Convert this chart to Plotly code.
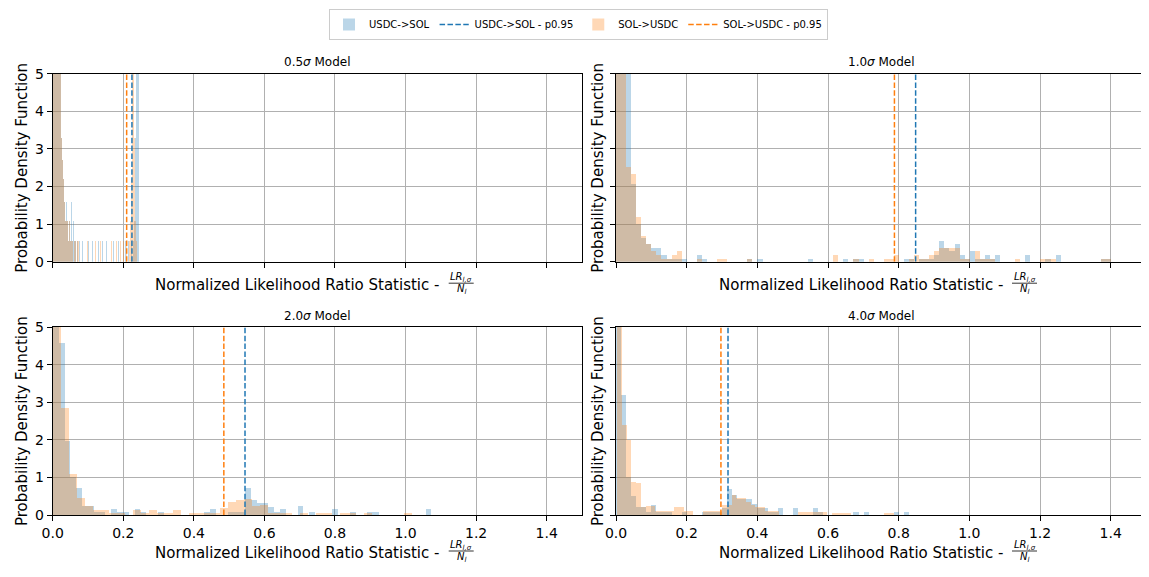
import plotly.graph_objects as go

# ---------------- data ----------------
model_labels = ["0.5", "1.0", "2.0", "4.0"]
series_names = ["USDC->SOL", "SOL->USDC"]

# 95th percentile thresholds
p95_usdc_sol = [0.2246, 0.848, 0.545, 0.317]
p95_sol_usdc = [0.2096, 0.788, 0.485, 0.297]

# histogram bin edges (first edge, bin width) per model
bin_start_usdc_sol = [0.0, 0.0, 0.0, 0.0]
bin_width_usdc_sol = [0.0024, 0.0143, 0.0165, 0.0143]
bin_start_sol_usdc = [0.0, 0.0, 0.0, 0.003]
bin_width_sol_usdc = [0.0024, 0.0143, 0.0226, 0.0135]

# probability density per bin (values above 5 are clipped by the axis)
dens_usdc_sol_05 = [
    28, 24, 20, 16, 12, 9, 7, 6, 5.5, 3.8,
    3.3, 2.7, 2.2, 1.6, 1.1, 1.6, 2.2, 1.1, 0.55, 1.1,
    0.55, 1.6, 1.1, 0.55, 1.1, 0.55, 0.55, 0, 0.55, 0.55,
    0, 0.55, 0, 0, 0.55, 0, 0, 0, 0, 0,
    0, 0.55, 0, 0, 0, 0, 0.55, 0, 0, 0,
    0, 0, 0, 0.55, 0, 0, 0, 0, 0.55, 0,
    0, 0, 0, 0.55, 0, 0, 0, 0, 0, 0,
    0, 0.55, 0, 0, 0, 0, 0, 0.55, 0, 0,
    0, 0, 0, 0, 0, 0.55, 0, 0, 0, 0.55,
    0, 0, 0.55, 0, 0, 0.55, 1.1, 3.3, 6.6, 7.7,
    6.1, 1.1,
]
dens_sol_usdc_05 = [
    30, 26, 22, 17, 13, 10, 8, 6.5, 5.5, 5.2,
    3.3, 2.7, 2.2, 1.6, 1.1, 1.1, 0.55, 1.1, 0.55, 1.1,
    0.55, 0.55, 1.1, 0.55, 0, 0.55, 0.55, 0, 0.55, 0,
    0.55, 0, 0, 0, 0, 0.55, 0, 0, 0, 0,
    0.55, 0, 0, 0, 0, 0, 0, 0, 0, 0,
    0.55, 0, 0, 0, 0, 0, 0.55, 0, 0, 0,
    0, 0, 0.55, 0, 0, 0, 0, 0, 0, 0.55,
    0, 0, 0, 0, 0.55, 0, 0, 0, 0, 0.55,
    0, 0, 0, 0.55, 0, 0, 0.55, 0, 0, 0,
    0.55, 1.1, 2.2, 5.5, 6.6, 6.1, 3.3, 1.1, 0.55, 0,
]
dens_usdc_sol_10 = [
    25, 19, 5.6, 2.07, 1.0, 0.65, 0.47, 0.37, 0.37, 0.19,
    0.09, 0.09, 0.09, 0.09, 0, 0, 0.19, 0.09, 0, 0,
    0, 0, 0, 0, 0, 0, 0.09, 0, 0.09, 0,
    0, 0, 0, 0, 0, 0, 0, 0, 0.09, 0,
    0, 0, 0, 0, 0, 0.09, 0, 0.09, 0.09, 0,
    0, 0, 0, 0, 0, 0, 0, 0.09, 0.09, 0,
    0.09, 0.09, 0.09, 0.19, 0.56, 0.37, 0.28, 0.47, 0.19, 0.09,
    0.28, 0.09, 0.09, 0.19, 0.09, 0.19, 0, 0, 0, 0,
    0, 0.19, 0, 0, 0, 0.09, 0, 0.19, 0, 0,
    0, 0, 0, 0, 0, 0, 0.09, 0.09, 0, 0,
]
dens_sol_usdc_10 = [
    22, 14, 2.53, 2.35, 1.2, 0.7, 0.47, 0.28, 0.19, 0.09,
    0.09, 0.19, 0.28, 0, 0, 0, 0.09, 0, 0, 0,
    0.09, 0.09, 0, 0, 0, 0, 0.09, 0, 0, 0,
    0, 0, 0, 0, 0, 0, 0, 0, 0, 0,
    0, 0, 0, 0.19, 0, 0, 0, 0.09, 0, 0,
    0.09, 0, 0, 0.09, 0.09, 0.19, 0, 0, 0.09, 0.19,
    0.09, 0.09, 0.19, 0.28, 0.37, 0.37, 0.37, 0.37, 0.09, 0.09,
    0, 0.28, 0.09, 0.09, 0.09, 0, 0, 0, 0, 0.09,
    0, 0, 0, 0, 0.09, 0.09, 0.09, 0, 0, 0,
    0, 0, 0, 0, 0, 0, 0.09, 0.09,
]
dens_usdc_sol_20 = [
    45, 4.57, 1.97, 1.0, 0.72, 0.24, 0.24, 0.08, 0.08, 0,
    0.16, 0.08, 0.08, 0, 0.16, 0.08, 0, 0, 0.08, 0,
    0, 0, 0, 0, 0, 0, 0.08, 0.16, 0, 0,
    0.08, 0.08, 0.08, 0.71, 0.4, 0.31, 0.31, 0.22, 0.08, 0.16,
    0, 0, 0.24, 0, 0.08, 0, 0, 0, 0.16, 0,
    0, 0.08, 0, 0, 0.08, 0.08, 0, 0, 0, 0,
    0, 0, 0, 0, 0.16,
]
dens_sol_usdc_20 = [
    38, 2.85, 1.1, 0.44, 0.24, 0.12, 0.12, 0.06, 0.06, 0,
    0.12, 0.06, 0.12, 0.06, 0.06, 0.12, 0, 0.06, 0.06, 0.06,
    0.06, 0.18, 0.35, 0.4, 0.43, 0.24, 0.26, 0.06, 0.06, 0.06,
    0, 0.06, 0, 0.06, 0.06, 0, 0.06, 0.06, 0, 0.06,
    0, 0, 0, 0, 0.06,
]
dens_usdc_sol_40 = [
    50, 3.2, 1.02, 0.5, 0.2, 0.2, 0.09, 0.27, 0.09, 0.09,
    0.09, 0, 0, 0.09, 0, 0, 0, 0.09, 0.09, 0.09,
    0.09, 0.19, 0.68, 0.53, 0.43, 0.43, 0.43, 0.28, 0.19, 0.19,
    0.09, 0.09, 0.19, 0, 0, 0.19, 0, 0, 0, 0.19,
    0.09, 0, 0, 0, 0, 0, 0, 0.09, 0, 0.09,
    0, 0, 0, 0, 0, 0.09, 0, 0.09,
]
dens_sol_usdc_40 = [
    45, 2.4, 2.0, 0.87, 0.84, 0.2, 0.25, 0.25, 0.1, 0.1,
    0.1, 0.1, 0.2, 0.2, 0.1, 0.1, 0, 0, 0.1, 0.1,
    0.1, 0.1, 0.27, 0.27, 0.53, 0.45, 0.45, 0.35, 0.27, 0.2,
    0.2, 0.1, 0.1, 0.1, 0, 0, 0, 0, 0.07, 0.07,
    0.07, 0.07, 0.07, 0.07, 0, 0.05, 0.05, 0.05, 0.05, 0,
    0, 0, 0, 0, 0, 0, 0.05, 0.05, 0,
]

dens_usdc_sol = [dens_usdc_sol_05, dens_usdc_sol_10, dens_usdc_sol_20, dens_usdc_sol_40]
dens_sol_usdc = [dens_sol_usdc_05, dens_sol_usdc_10, dens_sol_usdc_20, dens_sol_usdc_40]

x_ticks = [0.0, 0.2, 0.4, 0.6, 0.8, 1.0, 1.2, 1.4]
y_ticks = [0, 1, 2, 3, 4, 5]

# ---------------- layout geometry (screen pixels of the reference) ----------------
OX, OY = 8, 8            # page offset of the figure inside the window
W, H = 1141, 577         # figure size
col_x = [(52.7, 582.0), (616.0, 1146.0)]
row_y = [(73.7, 261.7), (327.0, 515.0)]
FONT = "DejaVu Sans"
BLUE = "#1f77b4"
ORANGE = "#ff7f0e"
BLUE_FILL = "rgba(31,119,180,0.3)"
ORANGE_FILL = "rgba(255,127,14,0.3)"


def px(x):
    return (x - OX) / W


def py(y):
    return 1 - (y - OY) / H


fig = go.Figure()
layout_axes = {}
annotations = []
shapes = []

for k in range(4):
    r, c = divmod(k, 2)
    sfx = "" if k == 0 else str(k + 1)
    xa, ya = "x" + sfx, "y" + sfx
    for dens, start, w, name, fill, rank in [
        (dens_usdc_sol[k], bin_start_usdc_sol[k], bin_width_usdc_sol[k], series_names[0], BLUE_FILL, 1),
        (dens_sol_usdc[k], bin_start_sol_usdc[k], bin_width_sol_usdc[k], series_names[1], ORANGE_FILL, 3),
    ]:
        centers = [start + (i + 0.5) * w for i in range(len(dens))]
        fig.add_trace(go.Bar(
            x=centers, y=dens, width=w, name=name, legendgroup=name, legendrank=rank,
            showlegend=(k == 0), marker=dict(color=fill, line=dict(width=0)),
            xaxis=xa, yaxis=ya, hoverinfo="skip",
        ))
    for v, name, col, rank in [
        (p95_usdc_sol[k], series_names[0] + " - p0.95", BLUE, 2),
        (p95_sol_usdc[k], series_names[1] + " - p0.95", ORANGE, 4),
    ]:
        fig.add_trace(go.Scatter(
            x=[v, v], y=[0, 5], mode="lines", name=name, legendgroup=name, legendrank=rank,
            showlegend=(k == 0), line=dict(color=col, width=1.5, dash="5.5px,2.4px"),
            xaxis=xa, yaxis=ya, hoverinfo="skip",
        ))

    x0, x1 = col_x[c]
    y0, y1 = row_y[r]
    axis_common = dict(
        showline=True, mirror=True, linecolor="#000", linewidth=0.8,
        ticks="outside", ticklen=5, tickwidth=0.8, tickcolor="#000",
        showgrid=True, gridcolor="#b0b0b0", gridwidth=0.8, zeroline=False,
        tickfont=dict(family=FONT, size=14, color="#000"), automargin=False,
    )
    layout_axes["xaxis" + sfx] = dict(
        axis_common, domain=[px(x0), min(px(x1), 1.0)], range=[0, 1.5], anchor=ya,
        tickvals=x_ticks, ticktext=["%.1f" % t for t in x_ticks],
        showticklabels=(r == 1),
    )
    layout_axes["yaxis" + sfx] = dict(
        axis_common, domain=[py(y1), py(y0)], range=[0, 5], anchor=xa,
        tickvals=y_ticks, ticktext=[str(t) for t in y_ticks],
        showticklabels=(c == 0),
    )

    cx = (x0 + x1) / 2
    # subplot title
    annotations.append(dict(
        text=model_labels[k] + "<i>σ</i> Model", x=px(cx), y=py(y0 - 11.5),
        xref="paper", yref="paper", showarrow=False, xanchor="center", yanchor="middle",
        font=dict(family=FONT, size=12, color="#000"),
    ))
    # y label
    annotations.append(dict(
        text="Probability Density Function", x=px(x0 - (30.7 if c == 0 else 18)), y=py((y0 + y1) / 2),
        xref="paper", yref="paper", showarrow=False, textangle=-90,
        xanchor="center", yanchor="middle", font=dict(family=FONT, size=15, color="#000"),
    ))
    # x label with fraction
    ty = y1 + (23.5 if r == 0 else 38.0)
    fx = x0 + 408.5
    annotations.append(dict(
        text="Normalized Likelihood Ratio Statistic - ", x=px(x0 + 393.5), y=py(ty),
        xref="paper", yref="paper", showarrow=False, xanchor="right", yanchor="middle",
        font=dict(family=FONT, size=15, color="#000"),
    ))
    annotations.append(dict(
        text="<i>LR</i><sub><i>l,σ</i></sub>", x=px(fx), y=py(ty - 7.5),
        xref="paper", yref="paper", showarrow=False, xanchor="center", yanchor="middle",
        font=dict(family=FONT, size=10, color="#000"),
    ))
    annotations.append(dict(
        text="<i>N</i><sub><i>l</i></sub>", x=px(fx), y=py(ty + 4.0),
        xref="paper", yref="paper", showarrow=False, xanchor="center", yanchor="middle",
        font=dict(family=FONT, size=10, color="#000"),
    ))
    shapes.append(dict(
        type="line", xref="paper", yref="paper", x0=px(fx - 12.5), x1=px(fx + 12.5),
        y0=py(ty - 2), y1=py(ty - 2), line=dict(color="#000", width=0.8),
    ))

fig.update_layout(
    width=W, height=H, margin=dict(l=0, r=0, t=0, b=0),
    paper_bgcolor="#fff", plot_bgcolor="#fff",
    barmode="overlay", bargap=0,
    font=dict(family=FONT, size=12, color="#000"),
    showlegend=True,
    legend=dict(
        orientation="h", x=0.5, xanchor="center", y=py(9), yanchor="top",
        bordercolor="#cccccc", borderwidth=1, bgcolor="#fff",
        font=dict(family=FONT, size=10, color="#000"),
    ),
    annotations=annotations, shapes=shapes,
    **layout_axes,
)

fig.write_html("out.html")
